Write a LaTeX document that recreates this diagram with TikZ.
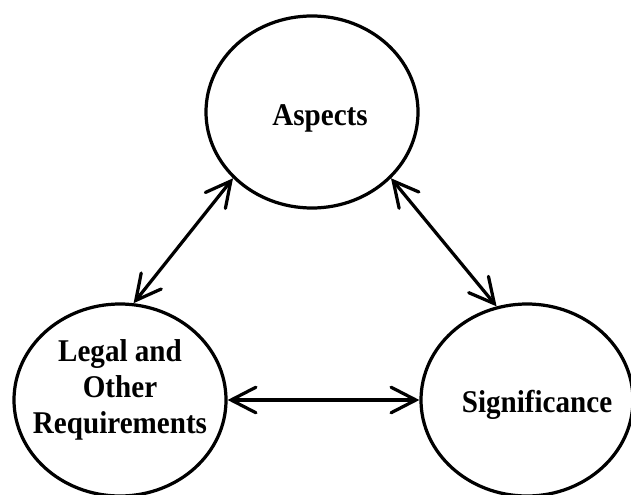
\documentclass[tikz,border=0pt]{standalone}
\usepackage{fontspec}
\setmainfont[FakeStretch=0.92]{Liberation Serif}
\usetikzlibrary{shapes.geometric, arrows.meta}

\begin{document}
\begin{tikzpicture}[
    topic/.style = {ellipse, draw, line width = 2.3pt, inner sep = 0pt,
                    minimum width = 5.3cm, minimum height = 4.8cm},
    word/.style  = {align = center, font = \fontsize{22.5}{25.6}\selectfont\bfseries},
    link/.style  = {line width = 2.3pt, line cap = round,
                    {Straight Barb[length=0.62cm, width=0.64cm, line cap=round]}-{Straight Barb[length=0.62cm, width=0.64cm, line cap=round]}}
  ]
  \useasboundingbox (0,0) rectangle (15.775,12.35);

  \node[topic, label={[word, xshift=0.2cm, yshift=-0.15cm]center:Aspects}] (asp) at (7.8,9.55) {};
  \node[topic, label={[word, yshift=0.25cm]center:Legal and\\Other\\Requirements}] (leg) at (3.0,2.35) {};
  \node[topic, label={[word, xshift=0.25cm, yshift=-0.12cm]center:Significance}] (sig) at (13.175,2.35) {};

  \draw[link] (leg.82) -- (asp.220);
  \draw[link] (asp.320) -- (sig.108);
  \draw[link] (leg.east) -- (sig.west);
\end{tikzpicture}
\end{document}
